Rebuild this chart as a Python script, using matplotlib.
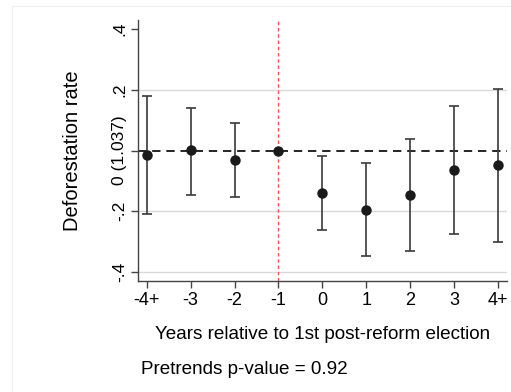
import numpy as np
import matplotlib
matplotlib.use("Agg")
from matplotlib import pyplot as plt
from matplotlib.patches import Rectangle

plt.rcParams['font.family'] = ['Liberation Sans', 'DejaVu Sans']

# event-study estimates
periods = ["-4+", "-3", "-2", "-1", "0", "1", "2", "3", "4+"]
coef = [-0.015, 0.002, -0.032, 0.0, -0.141, -0.195, -0.148, -0.065, -0.049]
ci_low = [-0.208, -0.148, -0.153, 0.0, -0.262, -0.347, -0.332, -0.274, -0.303]
ci_high = [0.178, 0.141, 0.090, 0.0, -0.019, -0.041, 0.037, 0.147, 0.203]
ref_period = 3  # index of "-1", omitted category

ytick_vals = [-0.4, -0.2, 0.0, 0.2, 0.4]
ytick_labels = ["-.4", "-.2", "0 (1.037)", ".2", ".4"]
grid_vals = [-0.4, -0.2, 0.2]

fig = plt.figure(figsize=(5.11, 3.92), dpi=100)
# faint outer graph-region border like Stata draws
fig.patches.append(Rectangle((12/511, -0.1), 1.2, (392-6)/392 + 0.1, transform=fig.transFigure,
                             fill=False, edgecolor="#eeeeee", lw=0.8))
ax = fig.add_axes([138.3/511, 1 - 281/392, (507 - 138.3)/511, (281 - 20)/392])

x = np.arange(len(periods))
coef = np.array(coef)
lo = coef - np.array(ci_low)
hi = np.array(ci_high) - coef

for g in grid_vals:
    ax.axhline(g, color="#d9d9d9", lw=1.0, zorder=0)
ax.axhline(0, color="black", lw=1.2, ls=(0, (5, 3.5)), zorder=1)
ax.axvline(ref_period, color="#ff5050", lw=1.0, ls=(0, (2.5, 2)), zorder=1)

mask = np.ones(len(x), bool)
mask[ref_period] = False
ax.errorbar(x[mask], coef[mask], yerr=[lo[mask], hi[mask]], fmt="none",
            ecolor="#3a3a3a", elinewidth=1.2, capsize=3.5, capthick=1.2, zorder=2)
ax.plot(x, coef, "o", color="#1a1a1a", ms=6.5, zorder=3)

ax.set_xlim(-0.19, 8.2)
ax.set_ylim(-0.43, 0.43)
ax.set_xticks(x)
ax.set_xticklabels(periods, fontsize=13)
ax.set_yticks(ytick_vals)
ax.set_yticklabels(ytick_labels, fontsize=12.5, rotation=90, va="center")
ax.tick_params(axis="both", direction="out", length=5, color="#444444", width=1.0)
ax.tick_params(axis="y", pad=3)
ax.tick_params(axis="x", pad=3)

for s in ["top", "right"]:
    ax.spines[s].set_visible(False)
for s in ["left", "bottom"]:
    ax.spines[s].set_color("#444444")
    ax.spines[s].set_linewidth(1.0)

ax.set_xlabel("Years relative to 1st post-reform election", fontsize=13.6, labelpad=12)
ax.set_ylabel("Deforestation rate", fontsize=14.5, labelpad=22)

fig.text(141/511, 1 - 370/392, "Pretrends p-value = 0.92", fontsize=13.6, va="center", ha="left")

fig.savefig("out.png", dpi=100)
